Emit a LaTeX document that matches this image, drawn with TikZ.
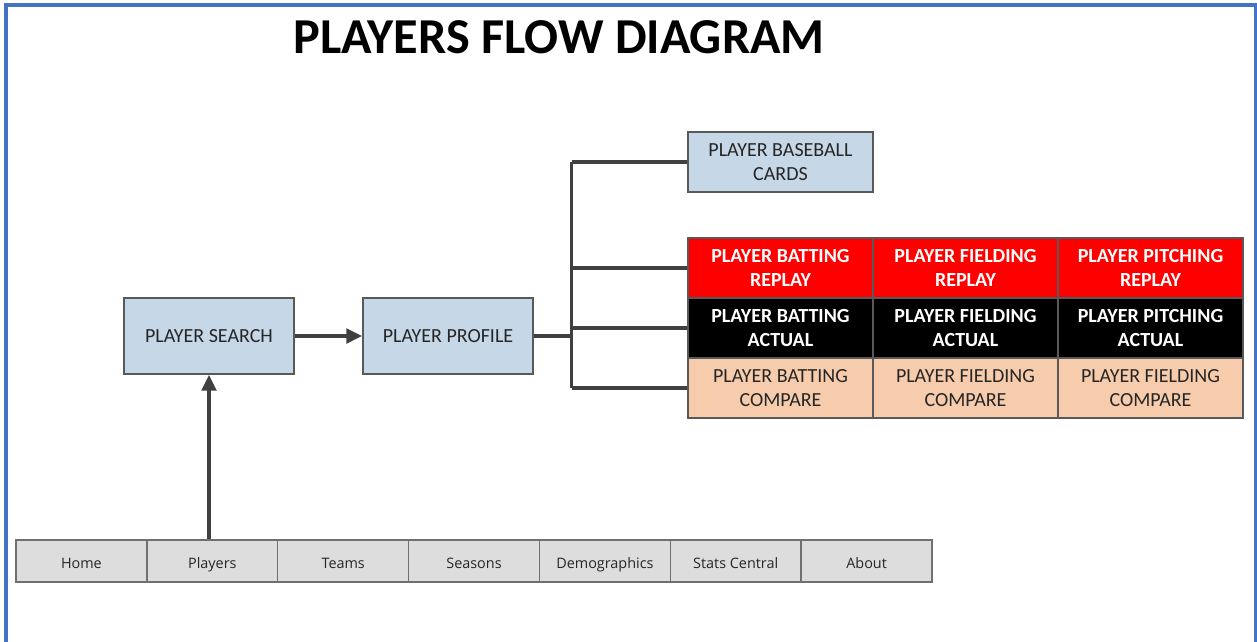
\documentclass[tikz,border=0pt]{standalone}
\usepackage{fontspec}
\setmainfont{Carlito}
\newfontfamily\navfont{Open Sans}
\usetikzlibrary{arrows.meta}
\definecolor{frameblue}{RGB}{68,114,196}
\definecolor{boxblue}{RGB}{198,215,232}
\definecolor{boxline}{RGB}{89,89,89}
\definecolor{boxtext}{RGB}{38,38,38}
\definecolor{linkgray}{RGB}{64,64,64}
\definecolor{replayred}{RGB}{255,0,0}
\definecolor{comparepeach}{RGB}{247,204,172}
\definecolor{navgray}{RGB}{221,221,221}
\definecolor{navline}{RGB}{112,112,112}
\begin{document}
\begin{tikzpicture}[x=0.75pt,y=-0.75pt,
  box/.style={draw=boxline,line width=1.1pt,fill=boxblue,text=boxtext,inner sep=0pt,align=center,
    minimum width=127.5pt,minimum height=57pt,font=\fontsize{15}{18}\selectfont},
  cell/.style={draw=boxline,line width=0.9pt,inner sep=0pt,align=center,
    minimum width=138.75pt,minimum height=45pt,font=\fontsize{15}{18}\selectfont},
  replay/.style={cell,fill=replayred,text=white,font=\fontsize{15}{18}\selectfont\bfseries},
  actual/.style={cell,fill=black,text=white,font=\fontsize{15}{18}\selectfont\bfseries},
  compare/.style={cell,fill=comparepeach,text=boxtext},
  navcell/.style={draw=navline,line width=1pt,fill=navgray,text=boxtext,inner sep=0pt,
    text height=2.2ex,text depth=0ex,
    minimum width=98.15pt,minimum height=31.5pt,font=\navfont\fontsize{10.8}{12}\selectfont},
  link/.style={draw=linkgray,line width=2.6pt},
  flow/.style={link,-{Triangle[length=12pt,width=11pt]}}]
\useasboundingbox (0,0) rectangle (1257,642);
\fill[white] (0,0) rectangle (1257,642);
\draw[frameblue,line width=2.4pt] (6,642) -- (6,5) -- (1256,5) -- (1256,642);
\node[font=\fontsize{37.7}{40}\selectfont\bfseries] (title) at (559,37) {PLAYERS FLOW DIAGRAM};
% main path
\node[box] (search) at (209,336) {PLAYER SEARCH};
\node[box] (profile) at (448,336) {PLAYER PROFILE};
\node[box,minimum width=138.75pt,minimum height=45pt] (cards) at (780.5,162) {PLAYER BASEBALL\\CARDS};
% stats grid
\node[replay] (bat1) at (780.5,268) {PLAYER BATTING\\REPLAY};
\node[replay] (fld1) at (965.5,268) {PLAYER FIELDING\\REPLAY};
\node[replay] (pit1) at (1150.5,268) {PLAYER PITCHING\\REPLAY};
\node[actual] (bat2) at (780.5,328) {PLAYER BATTING\\ACTUAL};
\node[actual] (fld2) at (965.5,328) {PLAYER FIELDING\\ACTUAL};
\node[actual] (pit2) at (1150.5,328) {PLAYER PITCHING\\ACTUAL};
\node[compare] (bat3) at (780.5,388) {PLAYER BATTING\\COMPARE};
\node[compare] (fld3) at (965.5,388) {PLAYER FIELDING\\COMPARE};
\node[compare] (pit3) at (1150.5,388) {PLAYER FIELDING\\COMPARE};
% nav bar
\node[navcell] (home) at (81.4,561) {Home};
\node[navcell] (players) at (212.3,561) {Players};
\node[navcell] (teams) at (343.2,561) {Teams};
\node[navcell] (seasons) at (474,561) {Seasons};
\node[navcell] (demo) at (604.9,561) {Demographics};
\node[navcell] (stats) at (735.7,561) {Stats Central};
\node[navcell] (about) at (866.6,561) {About};
% connectors
\draw[flow] (search.south |- players.north) -- (search.south);
\draw[flow] (search) -- (profile);
\draw[link] (profile.east) -- ++(38,0) coordinate (fork);
\draw[link] (fork |- cards) -- (fork |- bat3);
\draw[link] (fork |- cards) -- (cards.west);
\draw[link] (fork |- bat1) -- (bat1.west);
\draw[link] (fork |- bat2) -- (bat2.west);
\draw[link] (fork |- bat3) -- (bat3.west);
\end{tikzpicture}
\end{document}
